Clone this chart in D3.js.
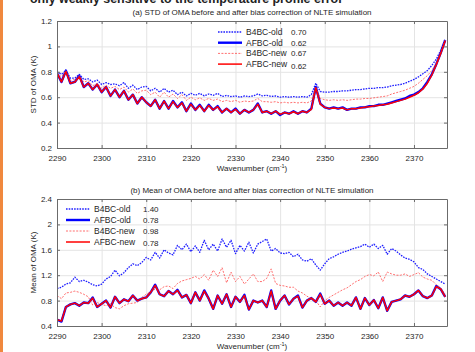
<!DOCTYPE html>
<html>
<head>
<meta charset="utf-8">
<script src="https://cdn.jsdelivr.net/npm/d3@7"></script>
<style>
  body { margin: 0; background: #fff; }
  svg { display: block; font-family: "Liberation Sans", Arial, sans-serif; }
  .axis path, .axis line { stroke: #6b6b6b; }
  .axis text { fill: #262626; font-size: 8px; }
  .grid line { stroke: #e4e4e4; }
  .grid path { display: none; }
</style>
</head>
<body>
<div id="chart"></div>
<script>
// wavenumber grid (cm-1)
var wavenumbers = [
  2290,2291,2292,2293,2294,2295,2296,2297,2298,2299,
  2300,2301,2302,2303,2304,2305,2306,2307,2308,2309,
  2310,2311,2312,2313,2314,2315,2316,2317,2318,2319,
  2320,2321,2322,2323,2324,2325,2326,2327,2328,2329,
  2330,2331,2332,2333,2334,2335,2336,2337,2338,2339,
  2340,2341,2342,2343,2344,2345,2346,2347,2348,2349,
  2350,2351,2352,2353,2354,2355,2356,2357,2358,2359,
  2360,2361,2362,2363,2364,2365,2366,2367,2368,2369,
  2370,2371,2372,2373,2374,2375,2376,2377];

var xTicks = [2290,2300,2310,2320,2330,2340,2350,2360,2370];
var seriesNames = ["B4BC-old","AFBC-old","B4BC-new","AFBC-new"];

// (a) STD of OMA
var stdTicks = [0.2,0.4,0.6,0.8,1,1.2];
var stdLegendValues = ["0.70","0.62","0.67","0.62"];
var stdB4bcOld = [
  0.80,0.78,0.81,0.75,0.75,0.78,0.74,0.745,0.72,0.735,
  0.70,0.715,0.70,0.705,0.69,0.715,0.67,0.695,0.66,0.68,
  0.685,0.65,0.67,0.64,0.67,0.64,0.655,0.62,0.64,0.61,
  0.63,0.615,0.63,0.61,0.625,0.615,0.63,0.605,0.615,0.605,
  0.61,0.60,0.61,0.605,0.61,0.625,0.61,0.615,0.605,0.61,
  0.60,0.605,0.60,0.605,0.60,0.605,0.60,0.62,0.71,0.645,
  0.64,0.64,0.645,0.645,0.65,0.65,0.655,0.66,0.66,0.665,
  0.67,0.67,0.675,0.675,0.68,0.69,0.695,0.70,0.71,0.725,
  0.74,0.76,0.785,0.81,0.85,0.90,0.97,1.06];
var stdAfbcOld = [
  0.79,0.72,0.81,0.71,0.72,0.77,0.68,0.71,0.66,0.70,
  0.64,0.68,0.61,0.66,0.60,0.65,0.58,0.62,0.55,0.60,
  0.56,0.53,0.58,0.51,0.57,0.51,0.57,0.52,0.56,0.49,
  0.55,0.50,0.54,0.49,0.54,0.50,0.53,0.48,0.51,0.48,
  0.51,0.47,0.50,0.48,0.50,0.55,0.48,0.49,0.47,0.49,
  0.46,0.48,0.47,0.49,0.47,0.49,0.48,0.51,0.68,0.55,
  0.52,0.51,0.52,0.51,0.52,0.50,0.51,0.51,0.52,0.52,
  0.53,0.53,0.54,0.54,0.55,0.56,0.57,0.58,0.59,0.61,
  0.62,0.64,0.67,0.72,0.78,0.86,0.95,1.05];
var stdB4bcNew = [
  0.79,0.76,0.81,0.73,0.74,0.77,0.72,0.73,0.69,0.71,
  0.67,0.695,0.67,0.685,0.66,0.68,0.64,0.665,0.63,0.65,
  0.655,0.62,0.64,0.60,0.64,0.60,0.625,0.59,0.62,0.575,
  0.60,0.58,0.595,0.575,0.59,0.575,0.585,0.565,0.575,0.565,
  0.575,0.56,0.57,0.565,0.57,0.59,0.565,0.565,0.56,0.565,
  0.555,0.56,0.555,0.56,0.555,0.56,0.555,0.57,0.68,0.59,
  0.58,0.575,0.58,0.575,0.58,0.575,0.58,0.585,0.585,0.59,
  0.59,0.595,0.60,0.605,0.61,0.625,0.635,0.645,0.655,0.67,
  0.685,0.71,0.74,0.77,0.81,0.87,0.96,1.05];
var stdAfbcNew = [
  0.79,0.72,0.80,0.71,0.72,0.76,0.68,0.71,0.66,0.70,
  0.64,0.68,0.61,0.66,0.60,0.65,0.58,0.62,0.55,0.60,
  0.56,0.53,0.58,0.51,0.57,0.51,0.565,0.52,0.555,0.49,
  0.545,0.50,0.535,0.49,0.535,0.50,0.525,0.48,0.51,0.48,
  0.505,0.47,0.50,0.48,0.50,0.545,0.48,0.49,0.47,0.49,
  0.465,0.48,0.47,0.485,0.47,0.49,0.48,0.505,0.675,0.545,
  0.52,0.51,0.515,0.51,0.515,0.50,0.51,0.51,0.515,0.52,
  0.525,0.53,0.535,0.54,0.545,0.555,0.565,0.575,0.585,0.60,
  0.615,0.635,0.665,0.71,0.775,0.855,0.945,1.045];

// (b) Mean of OMA
var meanTicks = [0.4,0.8,1.2,1.6,2,2.4];
var meanLegendValues = ["1.40","0.78","0.98","0.78"];
var meanB4bcOld = [
  0.99,1.01,1.06,1.08,1.17,1.10,1.12,1.09,1.05,1.03,
  1.06,1.14,1.18,1.28,1.19,1.24,1.32,1.38,1.35,1.40,
  1.48,1.44,1.56,1.47,1.60,1.55,1.52,1.67,1.60,1.69,
  1.57,1.66,1.56,1.75,1.60,1.69,1.58,1.77,1.64,1.75,
  1.54,1.67,1.58,1.72,1.55,1.69,1.73,1.77,1.58,1.62,
  1.55,1.54,1.56,1.49,1.53,1.44,1.42,1.46,1.36,1.28,
  1.38,1.46,1.49,1.53,1.56,1.58,1.61,1.63,1.65,1.69,
  1.64,1.69,1.62,1.67,1.53,1.62,1.58,1.52,1.47,1.45,
  1.41,1.32,1.29,1.22,1.18,1.14,1.10,1.06];
var meanAfbcOld = [
  0.50,0.47,0.70,0.74,0.76,0.72,0.77,0.76,0.85,0.70,
  0.75,0.80,0.69,0.86,0.76,0.82,0.79,0.88,0.80,0.83,
  0.85,0.93,1.05,0.90,0.87,0.95,0.90,0.97,0.85,0.89,
  0.76,0.93,0.80,0.96,0.83,0.67,0.88,0.75,0.90,0.70,
  0.86,0.78,0.89,0.66,0.80,0.77,0.80,0.70,0.96,0.67,
  0.80,0.88,0.74,0.83,0.88,0.69,0.80,0.84,0.78,0.91,
  0.75,0.80,0.72,0.77,0.72,0.77,0.72,0.85,0.67,0.84,
  0.73,0.81,0.68,0.85,0.64,0.78,0.80,0.82,0.88,0.86,
  0.90,0.96,0.87,0.84,0.88,1.03,0.98,0.86];
var meanB4bcNew = [
  0.88,0.83,0.92,0.93,0.95,0.93,0.90,0.86,0.73,0.77,
  0.74,0.72,0.75,0.69,0.67,0.72,0.75,0.76,0.77,0.85,
  0.90,0.94,0.98,0.97,1.02,1.03,0.99,1.07,1.11,1.13,
  1.15,1.18,1.14,1.21,1.12,1.28,1.18,1.32,1.08,1.25,
  1.10,1.18,1.06,1.14,1.22,1.10,1.10,1.15,1.30,1.07,
  1.04,1.03,1.01,1.01,0.95,0.92,0.87,0.83,0.80,0.70,
  0.80,0.85,0.89,0.93,0.97,1.00,1.05,1.10,1.13,1.18,
  1.21,1.19,1.25,1.10,1.25,1.22,1.20,1.20,1.22,1.18,
  1.21,1.24,1.17,1.14,1.12,1.05,1.00,0.90];
var meanAfbcNew = [
  0.50,0.48,0.70,0.74,0.76,0.72,0.77,0.76,0.84,0.70,
  0.75,0.80,0.69,0.86,0.76,0.82,0.79,0.88,0.80,0.83,
  0.85,0.93,1.04,0.90,0.87,0.95,0.90,0.96,0.85,0.89,
  0.76,0.93,0.80,0.95,0.83,0.67,0.88,0.75,0.90,0.70,
  0.86,0.78,0.88,0.66,0.80,0.77,0.80,0.70,0.95,0.67,
  0.80,0.88,0.74,0.83,0.87,0.69,0.80,0.84,0.78,0.90,
  0.75,0.80,0.72,0.77,0.72,0.77,0.72,0.85,0.67,0.84,
  0.73,0.81,0.68,0.85,0.64,0.78,0.80,0.82,0.88,0.86,
  0.90,0.96,0.87,0.84,0.88,1.02,0.98,0.86];

var width = 475, height = 352;

var svg = d3.select("#chart").append("svg")
  .attr("width", width)
  .attr("height", height);

// orange left border and clipped headline from the slide
svg.append("rect")
  .attr("x", 0).attr("y", 0)
  .attr("width", 3).attr("height", height)
  .attr("fill", "#f0883e");

svg.append("text")
  .attr("x", 30).attr("y", 3)
  .attr("font-size", 13).attr("font-weight", "bold")
  .attr("fill", "#222")
  .attr("textLength", 313).attr("lengthAdjust", "spacingAndGlyphs")
  .text("only weakly sensitive to the temperature profile error");

var styles = [
  { color: "#1f1fff", width: 1.3, dash: "1.6,1.1" },
  { color: "#0000ff", width: 2.4, dash: null },
  { color: "#ff4a4a", width: 0.8, dash: "2,1.4" },
  { color: "#ff0000", width: 1.5, dash: null }
];

function drawPanel(opt) {
  var left = 57, right = 447;
  var top = opt.top, bottom = opt.bottom;
  var h = bottom - top;

  var xScale = d3.scaleLinear().domain([2290, 2377.4]).range([left, right]);
  var yScale = d3.scaleLinear().domain(opt.yDomain).range([bottom, top]);

  var g = svg.append("g");

  // grid
  g.append("g").attr("class", "grid")
    .attr("transform", "translate(0," + bottom + ")")
    .call(d3.axisBottom(xScale).tickValues(xTicks).tickSize(-h).tickFormat(""));
  g.append("g").attr("class", "grid")
    .attr("transform", "translate(" + left + ",0)")
    .call(d3.axisLeft(yScale).tickValues(opt.yTicks).tickSize(-(right - left)).tickFormat(""));

  // lines
  var clipId = "clip" + opt.id;
  svg.append("clipPath").attr("id", clipId)
    .append("rect").attr("x", left).attr("y", top)
    .attr("width", right - left).attr("height", h);

  var line = d3.line()
    .x(function(d, i) { return xScale(wavenumbers[i]); })
    .y(function(d) { return yScale(d); });

  opt.series.forEach(function(s, i) {
    g.append("path")
      .datum(s)
      .attr("clip-path", "url(#" + clipId + ")")
      .attr("fill", "none")
      .attr("stroke", styles[i].color)
      .attr("stroke-width", styles[i].width)
      .attr("stroke-dasharray", styles[i].dash)
      .attr("stroke-linejoin", "round")
      .attr("d", line);
  });

  // axes (box with inward ticks)
  var fmt = function(d) { return String(+d.toFixed(1)); };
  g.append("g").attr("class", "axis")
    .attr("transform", "translate(0," + bottom + ")")
    .call(d3.axisBottom(xScale).tickValues(xTicks).tickSizeInner(-3).tickSizeOuter(0).tickPadding(6).tickFormat(d3.format("d")))
    .selectAll("text").attr("dy", "0.9em");
  g.append("g").attr("class", "axis")
    .attr("transform", "translate(0," + top + ")")
    .call(d3.axisTop(xScale).tickValues(xTicks).tickSizeInner(-3).tickSizeOuter(0).tickFormat(""));
  g.append("g").attr("class", "axis")
    .attr("transform", "translate(" + left + ",0)")
    .call(d3.axisLeft(yScale).tickValues(opt.yTicks).tickSizeInner(-3).tickSizeOuter(0).tickPadding(5).tickFormat(fmt));
  g.append("g").attr("class", "axis")
    .attr("transform", "translate(" + right + ",0)")
    .call(d3.axisRight(yScale).tickValues(opt.yTicks).tickSizeInner(-3).tickSizeOuter(0).tickFormat(""));

  // title
  svg.append("text")
    .attr("x", (left + right) / 2).attr("y", top - 6)
    .attr("text-anchor", "middle").attr("font-size", 8).attr("fill", "#262626")
    .text(opt.title);

  // x label
  var xl = svg.append("text")
    .attr("x", (left + right) / 2).attr("y", bottom + 23)
    .attr("text-anchor", "middle").attr("font-size", 8).attr("fill", "#262626");
  xl.append("tspan").text("Wavenumber (cm");
  xl.append("tspan").attr("dy", -3).attr("font-size", 5.5).text("-1");
  xl.append("tspan").attr("dy", 3).text(")");

  // y label
  svg.append("text")
    .attr("transform", "translate(36," + (top + bottom) / 2 + ") rotate(-90)")
    .attr("text-anchor", "middle").attr("font-size", 8).attr("fill", "#262626")
    .text(opt.yLabel);

  // legend
  var lg = svg.append("g");
  seriesNames.forEach(function(name, i) {
    var y = opt.legend.y + i * opt.legend.step;
    lg.append("line")
      .attr("x1", opt.legend.x).attr("x2", opt.legend.x + 24)
      .attr("y1", y).attr("y2", y)
      .attr("stroke", styles[i].color)
      .attr("stroke-width", styles[i].width)
      .attr("stroke-dasharray", styles[i].dash);
    lg.append("text")
      .attr("x", opt.legend.x + 28).attr("y", y + 3)
      .attr("font-size", 8.5).attr("fill", "#262626")
      .text(name);
    lg.append("text")
      .attr("x", opt.legend.vx).attr("y", y + 3 + (i === 3 ? opt.legend.lastShift : 0))
      .attr("font-size", 8).attr("fill", "#262626")
      .text(opt.legendValues[i]);
  });
}

drawPanel({
  id: "a", top: 21, bottom: 148,
  yDomain: [0.2, 1.2], yTicks: stdTicks,
  title: "(a) STD of OMA before and after bias correction of NLTE simulation",
  yLabel: "STD of OMA (K)",
  series: [stdB4bcOld, stdAfbcOld, stdB4bcNew, stdAfbcNew],
  legendValues: stdLegendValues,
  legend: { x: 218, vx: 291, y: 32, step: 10.7, lastShift: 2 }
});

drawPanel({
  id: "b", top: 199, bottom: 326,
  yDomain: [0.4, 2.4], yTicks: meanTicks,
  title: "(b) Mean of OMA before and after bias correction of NLTE simulation",
  yLabel: "Mean of OMA (K)",
  series: [meanB4bcOld, meanAfbcOld, meanB4bcNew, meanAfbcNew],
  legendValues: meanLegendValues,
  legend: { x: 66, vx: 143, y: 209, step: 11, lastShift: 1 }
});
</script>
</body>
</html>
